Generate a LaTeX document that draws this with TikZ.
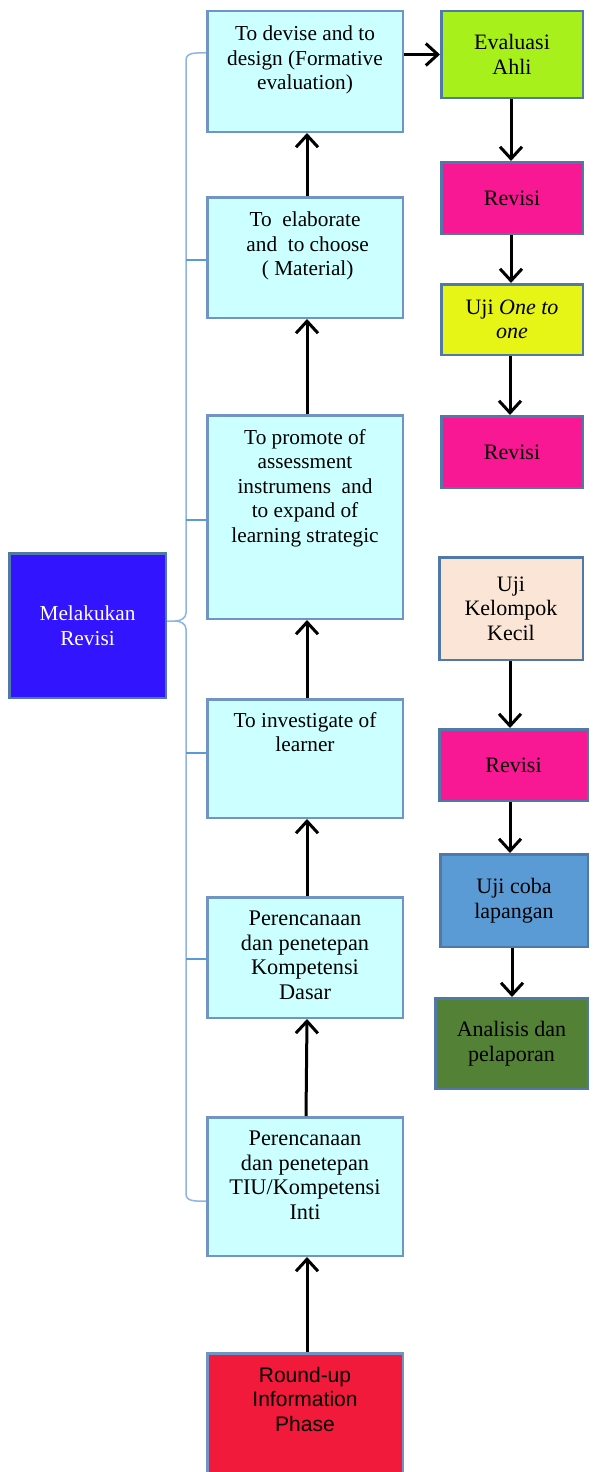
\documentclass[tikz,border=0pt]{standalone}
\usepackage{fontspec}
\setmainfont{Liberation Serif}
\newfontfamily\arialf{Liberation Sans}
\usetikzlibrary{arrows.meta,calc}
\definecolor{cyanfill}{HTML}{CCFFFF}
\definecolor{lborder}{HTML}{7095C4}
\definecolor{rborder}{HTML}{5079A8}
\definecolor{evgreen}{HTML}{A8F01C}
\definecolor{revpink}{HTML}{F81894}
\definecolor{oneyellow}{HTML}{E6F516}
\definecolor{peach}{HTML}{FAE5D6}
\definecolor{fieldblue}{HTML}{5B9BD5}
\definecolor{darkgreen}{HTML}{538135}
\definecolor{revblue}{HTML}{3314FF}
\definecolor{roundred}{HTML}{F21A3A}
\definecolor{bracecol}{HTML}{8DB4E2}
\definecolor{tickcol}{HTML}{5B9BD5}
\tikzset{
  lbox/.style={draw=lborder, fill=cyanfill, line width=2.5pt, rectangle, inner sep=0pt, minimum width=195.5pt},
  rbox/.style={draw=rborder, line width=2.5pt, rectangle, inner sep=0pt, align=center,
    font=\fontsize{22}{24.5}\selectfont},
  ltext/.style={anchor=north, align=center, inner sep=0pt, font=\fontsize{21.3}{24.5}\selectfont},
  ptext/.style={anchor=north, align=center, inner sep=0pt, font=\fontsize{22.3}{24.5}\selectfont},
  arr/.style={line width=3pt, -{Straight Barb[length=12pt,width=22pt]}},
  brace/.style={draw=bracecol, line width=1.5pt},
  tick/.style={draw=tickcol, line width=1.5pt}
}
\begin{document}
\begin{tikzpicture}[x=1pt,y=-1pt]
\clip (0,0) rectangle (592,1472);
\fill[white] (0,0) rectangle (592,1472);
% left column boxes
\node[lbox, minimum height=120.5pt] (b1) at (305,71.5) {};
\node[lbox, minimum height=120.5pt] (b2) at (305,257.5) {};
\node[lbox, minimum height=203.5pt] (b3) at (305,517) {};
\node[lbox, minimum height=118.5pt] (b4) at (305,758.5) {};
\node[lbox, minimum height=120.5pt] (b5) at (305,957.5) {};
\node[lbox, minimum height=138.5pt] (b6) at (305,1186.5) {};
\node[lbox, fill=roundred, minimum height=129.5pt] (b7) at (305,1418) {};
% left texts
\node[ltext] (t1) at (305,26) {To devise and to\\design (Formative\\evaluation)};
\node[ltext] (t2) at (305,212) {To\ \ elaborate\\\ and\ \ to choose\\\ ( Material)};
\node[ltext] (t3) at (305,429) {To promote of\\assessment\\instrumens\ \ and\\to expand of\\learning strategic};
\node[ltext] (t4) at (305,712) {To investigate of\\learner};
\node[ptext] (t5) at (305,911) {Perencanaan\\dan penetepan\\Kompetensi\\Dasar};
\node[ptext] (t6) at (305,1131) {Perencanaan\\dan penetepan\\TIU/Kompetensi\\Inti};
\node[ltext, font=\arialf\fontsize{21}{24.5}\selectfont] (t7) at (305,1367) {Round-up\\Information\\Phase};
% Melakukan Revisi
\node[draw=rborder, fill=revblue, line width=2.5pt, inner sep=0pt, minimum width=156.5pt, minimum height=144.5pt,
  text=white, align=center, font=\fontsize{21.3}{24.5}\selectfont] (mr) at (87.5,625.5) {Melakukan\\Revisi};
% right column
\node[rbox, fill=evgreen, minimum width=141.5pt, minimum height=86.5pt] (ev) at (512,54.5) {Evaluasi\\Ahli};
\node[rbox, fill=revpink, minimum width=141.5pt, minimum height=71.5pt] (r1) at (512,198) {Revisi};
\node[rbox, fill=oneyellow, minimum width=141.5pt, minimum height=70.5pt] (u1) at (512,319.5) {Uji \textit{One to}\\\textit{one}};
\node[rbox, fill=revpink, minimum width=141.5pt, minimum height=71.5pt] (r2) at (512,452) {Revisi};
\node[rbox, fill=peach, minimum width=143.5pt, minimum height=102.5pt] (kk) at (511,608.5) {Uji\\Kelompok\\Kecil};
\node[rbox, fill=revpink, minimum width=148.5pt, minimum height=71.5pt] (r3) at (513.5,765) {Revisi};
\node[rbox, fill=fieldblue, minimum width=147.5pt, minimum height=92.5pt] (uc) at (514,900.5) {Uji coba\\lapangan};
\node[rbox, fill=darkgreen, minimum width=152.5pt, minimum height=90.5pt] (an) at (511.5,1043.5) {Analisis dan\\pelaporan};
% left arrows (upward)
\draw[arr] ([xshift=2pt]b2.north) -- ([xshift=2pt]b1.south);
\draw[arr] ([xshift=2pt]b3.north) -- ([xshift=2pt]b2.south);
\draw[arr] ([xshift=2pt]b4.north) -- ([xshift=2pt]b3.south);
\draw[arr] ([xshift=2pt]b5.north) -- ([xshift=2pt]b4.south);
\draw[arr] ([xshift=1pt]b6.north) -- ([xshift=2pt]b5.south);
\draw[arr] ([xshift=2pt]b7.north) -- ([xshift=2pt]b6.south);
% to Evaluasi
\draw[arr] (b1.east |- ev.west) -- (ev.west);
% right arrows
\draw[arr] ([xshift=-1pt]ev.south) -- ([xshift=-1pt]r1.north);
\draw[arr] ([xshift=-1pt]r1.south) -- ([xshift=-1pt]u1.north);
\draw[arr] ([xshift=-2pt]u1.south) -- ([xshift=-2pt]r2.north);
\draw[arr] ([xshift=-1pt]kk.south) -- ([xshift=-1pt]kk.south |- r3.north);
\draw[arr] ([xshift=-3.5pt]r3.south) -- ([xshift=-3.5pt]r3.south |- uc.north);
\draw[arr] ([xshift=-2pt]uc.south) -- ([xshift=-2pt]uc.south |- an.north);
% brace
\coordinate (btop) at (b1.west |- 0,53);
\coordinate (bbot) at (b6.west |- 0,1201);
\coordinate (btip) at (mr.east |- 0,621);
\draw[brace] (btop) to[out=180,in=90] (186,60) -- (186,613) to[out=-90,in=0] (175,621) -- (btip);
\draw[brace] (175,621) to[out=0,in=90] (186,629) -- (186,1194) to[out=-90,in=180] (bbot);
\draw[tick] (186,260) -- (b2.west |- 0,260);
\draw[tick] (186,520) -- (b3.west |- 0,520);
\draw[tick] (186,753) -- (b4.west |- 0,753);
\draw[tick] (186,959) -- (b5.west |- 0,959);
\end{tikzpicture}
\end{document}
